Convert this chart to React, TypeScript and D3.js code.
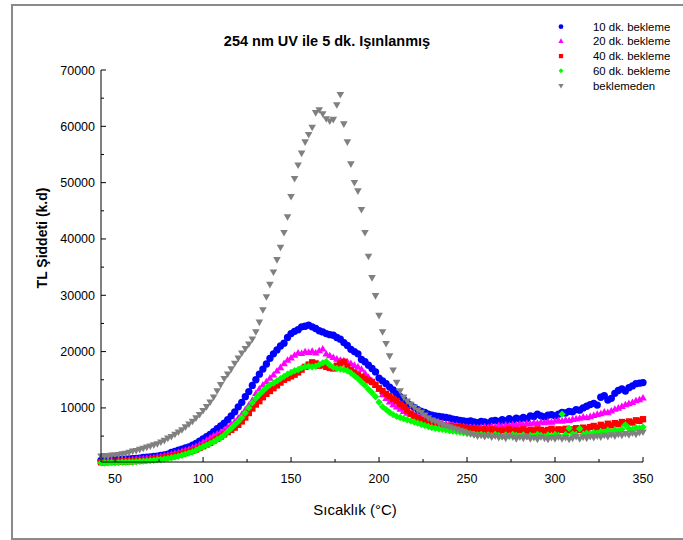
import React from "react";
import * as d3 from "d3";

const temps = [
  42, 44, 46, 48, 50, 52, 54, 56, 58, 60,
  62, 64, 66, 68, 70, 72, 74, 76, 78, 80,
  82, 84, 86, 88, 90, 92, 94, 96, 98, 100,
  102, 104, 106, 108, 110, 112, 114, 116, 118, 120,
  122, 124, 126, 128, 130, 132, 134, 136, 138, 140,
  142, 144, 146, 148, 150, 152, 154, 156, 158, 160,
  162, 164, 166, 168, 170, 172, 174, 176, 178, 180,
  182, 184, 186, 188, 190, 192, 194, 196, 198, 200,
  202, 204, 206, 208, 210, 212, 214, 216, 218, 220,
  222, 224, 226, 228, 230, 232, 234, 236, 238, 240,
  242, 244, 246, 248, 250, 252, 254, 256, 258, 260,
  262, 264, 266, 268, 270, 272, 274, 276, 278, 280,
  282, 284, 286, 288, 290, 292, 294, 296, 298, 300,
  302, 304, 306, 308, 310, 312, 314, 316, 318, 320,
  322, 324, 326, 328, 330, 332, 334, 336, 338, 340,
  342, 344, 346, 348, 350,
];

const bekleme10 = [
  700, 700, 750, 800, 800, 850, 900, 900, 950, 1000,
  1050, 1100, 1200, 1250, 1300, 1400, 1450, 1550, 1650, 1800,
  2100, 2300, 2500, 2700, 2900, 3100, 3400, 3700, 4100, 4500,
  4900, 5300, 5800, 6300, 6800, 7300, 7900, 8600, 9300, 10200,
  11000, 12000, 12900, 14000, 15000, 16000, 16900, 17800, 18800, 19600,
  20300, 21000, 21500, 22500, 23200, 23600, 23900, 24400, 24500, 24700,
  24400, 24100, 23700, 23500, 23200, 23000, 22900, 22500, 22200, 21600,
  21100, 20400, 20000, 19600, 18600, 18200, 17600, 17000, 16400, 15300,
  14800, 14300, 13700, 13200, 12500, 12000, 11500, 10900, 10500, 10100,
  9700, 9400, 9200, 8900, 8700, 8600, 8500, 8400, 8300, 8200,
  8000, 7900, 7800, 7700, 7600, 7700, 7500, 7400, 7600, 7500,
  7300, 7700, 7800, 7600, 7900, 7700, 8100, 7800, 8200, 8000,
  8300, 8100, 8600, 8500, 8900, 8600, 8400, 8700, 8800, 8600,
  8900, 9200, 9100, 9400, 9300, 9700, 9600, 10000, 10300, 10600,
  10800, 10500, 11900, 12200, 11400, 11700, 12600, 13100, 13400, 13000,
  13600, 13900, 14300, 14400, 14500,
];

const bekleme20 = [
  500, 500, 550, 550, 600, 600, 650, 700, 700, 750,
  800, 850, 900, 950, 1000, 1100, 1200, 1300, 1400, 1550,
  1700, 1850, 2000, 2200, 2400, 2600, 2850, 3100, 3400, 3800,
  4200, 4600, 5000, 5300, 5600, 6000, 6500, 7000, 7500, 8100,
  8800, 9600, 10400, 11300, 12500, 13300, 14000, 14600, 15200, 15800,
  16500, 17100, 17800, 18400, 18800, 19300, 19700, 19600, 19900, 19800,
  20000, 19700, 20100, 20400, 19500, 19200, 18900, 18600, 18400, 18300,
  18100, 17800, 17500, 17200, 16800, 16100, 15400, 14700, 14000, 13200,
  12300, 11600, 11000, 10500, 10100, 9700, 9300, 9000, 8800, 8600,
  8400, 8200, 8000, 7800, 7700, 7500, 7400, 7200, 7100, 7000,
  6900, 6800, 6700, 6600, 6500, 6400, 6500, 6400, 6500, 6600,
  6500, 6700, 6600, 6800, 6700, 6900, 6800, 7000, 6900, 7100,
  7000, 7200, 7100, 7300, 7200, 7400, 7300, 7500, 7400, 7600,
  7700, 7600, 7800, 7700, 7900, 8000, 8100, 8300, 8200, 8400,
  8600, 8800, 8900, 9200, 9100, 9400, 9700, 9900, 10200, 10500,
  10700, 10900, 11200, 11400, 11700,
];

const bekleme40 = [
  350, 350, 400, 400, 400, 450, 450, 500, 500, 550,
  600, 650, 700, 750, 800, 900, 1000, 1100, 1200, 1300,
  1400, 1550, 1700, 1850, 2000, 2200, 2400, 2600, 2900, 3200,
  3500, 3800, 4200, 4500, 4900, 5300, 5700, 6100, 6500, 7000,
  7600, 8300, 9100, 9900, 10600, 11200, 11900, 12500, 13000, 13500,
  14000, 14500, 15000, 15300, 15600, 15900, 16300, 16800, 17300, 17700,
  18100, 17900, 17500, 17600, 17300, 17100, 17000, 17500, 17900, 18200,
  17300, 16700, 16300, 15900, 15500, 15200, 14900, 14600, 14100, 13500,
  13000, 12500, 12100, 11600, 11200, 10700, 10200, 9600, 9000, 8600,
  8200, 7900, 7700, 7400, 7200, 7100, 7000, 6900, 6800, 6800,
  6700, 6600, 6600, 6500, 6400, 6400, 6300, 6200, 6100, 6200,
  6000, 6200, 6100, 5900, 6100, 6000, 6200, 5900, 6100, 6000,
  6200, 5900, 6100, 6000, 6200, 6100, 5900, 6100, 6300, 6000,
  6200, 6100, 6300, 6000, 6200, 6400, 6100, 6500, 6300, 6600,
  6800, 6500, 7000, 6700, 7200, 6900, 7300, 7100, 7500, 7300,
  7600, 7400, 7800, 7700, 8000,
];

const bekleme60 = [
  250, 250, 250, 300, 300, 300, 350, 350, 400, 400,
  450, 500, 550, 600, 650, 700, 800, 850, 950, 1050,
  1150, 1300, 1450, 1600, 1800, 2000, 2200, 2500, 2800, 3100,
  3400, 3700, 4000, 4400, 4700, 5200, 5800, 6400, 7000, 7600,
  8300, 9100, 10000, 10900, 11700, 12400, 13000, 13600, 14100, 14400,
  14800, 15200, 15600, 16000, 16300, 16600, 16800, 17100, 17300, 17400,
  17300, 17400, 17700, 18000, 18200, 17600, 17200, 17000, 16900, 16800,
  16600, 16200, 15700, 15200, 14600, 14000, 13300, 12700, 12000, 11000,
  10200, 9700, 9200, 8800, 8500, 8300, 8100, 7900, 7700, 7500,
  7300, 7100, 6900, 6700, 6500, 6400, 6300, 6200, 6100, 6000,
  5900, 5800, 5700, 5600, 5500, 5400, 5300, 5200, 5300, 5100,
  5200, 5000, 5300, 5100, 4900, 5200, 5000, 5300, 5100, 5000,
  5200, 4900, 5100, 5000, 5300, 5100, 4900, 5200, 5000, 5300,
  5100, 8900, 5300, 6400, 5400, 5200, 6300, 5300, 5500, 5400,
  5600, 5500, 5800, 5700, 6000, 5800, 6100, 5900, 6200, 7000,
  6300, 6200, 6500, 6400, 6600,
];

const beklemeden = [
  1500, 1600, 1500, 1700, 1700, 1800, 1900, 2000, 2200, 2400,
  2500, 2700, 2900, 3100, 3300, 3500, 3700, 4000, 4300, 4700,
  5000, 5400, 5800, 6200, 6700, 7200, 7700, 8300, 8900, 9600,
  10300, 11100, 12000, 13100, 14200, 15300, 16100, 17000, 18000, 18900,
  19800, 20600, 21400, 22300, 23600, 25300, 27500, 29800, 32000, 34200,
  36400, 38600, 41200, 44000, 47600, 50800, 53200, 55300, 57300, 58600,
  59900, 62500, 63000, 62300, 61400, 61000, 61300, 63900, 65700, 60500,
  57300, 53400, 50100, 48600, 45300, 41200, 37000, 33200, 30000, 26500,
  23600, 21500, 19300, 16800, 14600, 13100, 12000, 11300, 10700, 10200,
  9700, 9300, 8800, 8300, 7900, 7700, 7400, 7100, 6900, 6700,
  6500, 6300, 6100, 5900, 5600, 5500, 5300, 5100, 5200, 5000,
  5200, 4900, 5100, 4800, 5000, 4700, 5100, 4900, 4600, 4900,
  4700, 5000, 4600, 4800, 4500, 4900, 4700, 4500, 4800, 4600,
  4900, 4600, 4800, 4500, 4700, 5000, 4600, 4900, 4700, 5000,
  4800, 5100, 4900, 5200, 5000, 5300, 5100, 5400, 5200, 5500,
  5300, 5600, 5400, 5700, 5800,
];

const seriesNames = ["10 dk. bekleme", "20 dk. bekleme", "40 dk. bekleme", "60 dk. bekleme", "beklemeden"];
const xTicks = [50, 100, 150, 200, 250, 300, 350];
const xMinorTicks = [75, 125, 175, 225, 275, 325];
const yTicks = [10000, 20000, 30000, 40000, 50000, 60000, 70000];
const yMinorTicks = [5000, 15000, 25000, 35000, 45000, 55000, 65000];

const W = 683;
const H = 540;
const font = "'Liberation Sans', Arial, sans-serif";

const x = d3.scaleLinear().domain([42, 350]).range([101, 643]);
const y = d3.scaleLinear().domain([400, 70000]).range([462, 70]);

type Style = { color: string; path: string; rot: number };
const sym = (t: d3.SymbolType, size: number) => d3.symbol().type(t).size(size)() as string;

const styles: Style[] = [
  { color: "#0000ff", path: sym(d3.symbolCircle, 42), rot: 0 },
  { color: "#ff00ff", path: sym(d3.symbolTriangle, 25), rot: 0 },
  { color: "#ff0000", path: sym(d3.symbolSquare, 40), rot: 0 },
  { color: "#00ff00", path: sym(d3.symbolSquare, 27), rot: 45 },
  { color: "#808080", path: sym(d3.symbolTriangle, 25), rot: 180 },
];
const legendStyles: Style[] = [
  { color: "#0000ff", path: sym(d3.symbolCircle, 18), rot: 0 },
  { color: "#ff00ff", path: sym(d3.symbolTriangle, 12), rot: 0 },
  { color: "#ff0000", path: sym(d3.symbolSquare, 18), rot: 0 },
  { color: "#00ff00", path: sym(d3.symbolSquare, 12), rot: 45 },
  { color: "#808080", path: sym(d3.symbolTriangle, 12), rot: 180 },
];

const allSeries = [bekleme10, bekleme20, bekleme40, bekleme60, beklemeden];

export default function App() {
  return (
    <svg
      width={W}
      height={H}
      style={{ position: "absolute", left: 0, top: 0, display: "block", background: "#fff" }}
      fontFamily={font}
    >
      <rect x={12} y={5} width={690} height={534} fill="none" stroke="#8a8a8a" strokeWidth={2} />

      <text x={327} y={46} textAnchor="middle" fontSize={14.5} fontWeight="bold" fill="#000">
        254 nm UV ile 5 dk. Işınlanmış
      </text>

      {allSeries.map((vals, si) => (
        <g key={si} fill={styles[si].color}>
          {vals.map((v, i) => (
            <path
              key={i}
              d={styles[si].path}
              transform={`translate(${x(temps[i])},${y(v)}) rotate(${styles[si].rot})`}
            />
          ))}
        </g>
      ))}

      {/* axes */}
      <line x1={101} x2={101} y1={y(70000)} y2={462} stroke="#000" strokeWidth={1} />
      <line x1={101} x2={x(350)} y1={462} y2={462} stroke="#000" strokeWidth={1} />
      {yTicks.map((t) => (
        <g key={t}>
          <line x1={101} x2={106} y1={y(t)} y2={y(t)} stroke="#000" />
          <text x={95} y={y(t) + 4.5} textAnchor="end" fontSize={12.5} fill="#000">
            {t}
          </text>
        </g>
      ))}
      {yMinorTicks.map((t) => (
        <line key={t} x1={101} x2={104} y1={y(t)} y2={y(t)} stroke="#000" />
      ))}
      {xTicks.map((t) => (
        <g key={t}>
          <line x1={x(t)} x2={x(t)} y1={462} y2={457} stroke="#000" />
          <text x={x(t)} y={483} textAnchor="middle" fontSize={12.5} fill="#000">
            {t}
          </text>
        </g>
      ))}
      {xMinorTicks.map((t) => (
        <line key={t} x1={x(t)} x2={x(t)} y1={462} y2={459} stroke="#000" />
      ))}

      <text x={355} y={515} textAnchor="middle" fontSize={15} fill="#000">
        Sıcaklık (°C)
      </text>
      <text
        transform="translate(47,238) rotate(-90)"
        textAnchor="middle"
        fontSize={14}
        fontWeight="bold"
        fill="#000"
      >
        TL Şiddeti (k.d)
      </text>

      {seriesNames.map((n, i) => (
        <g key={n} transform={`translate(0,${26.7 + i * 14.7})`}>
          <path d={legendStyles[i].path} fill={legendStyles[i].color} transform={`translate(561,0) rotate(${legendStyles[i].rot})`} />
          <text x={593} y={4} fontSize={11.4} fill="#000">
            {n}
          </text>
        </g>
      ))}
    </svg>
  );
}
